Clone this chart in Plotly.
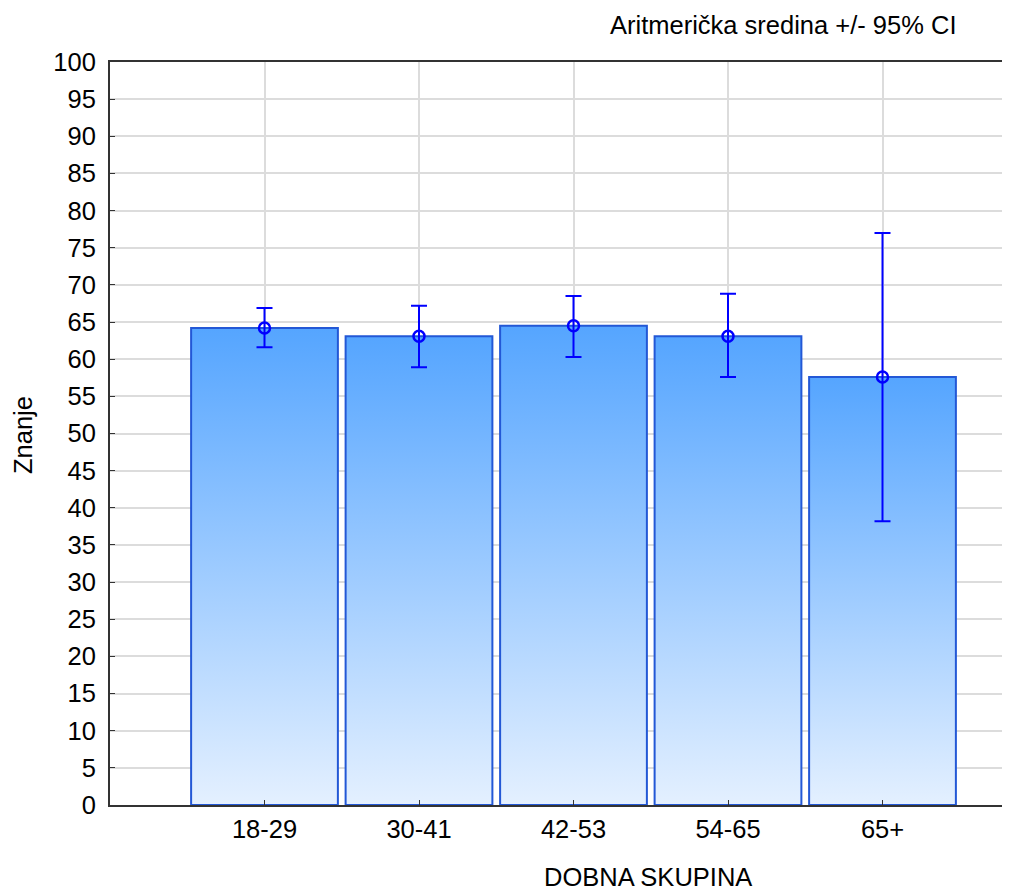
import plotly.graph_objects as go

categories = ["18-29", "30-41", "42-53", "54-65", "65+"]
means = [64.2, 63.1, 64.5, 63.1, 57.6]
ci_upper = [66.9, 67.2, 68.5, 68.8, 77.0]
ci_lower = [61.6, 58.9, 60.3, 57.6, 38.2]
y_ticks = list(range(0, 101, 5))

positions = list(range(1, len(categories) + 1))
bar_width = 0.95
font_family = "Liberation Sans, Arial, sans-serif"
fs = 25.5

fig = go.Figure()

for pos, m in zip(positions, means):
    x0, x1 = pos - bar_width / 2, pos + bar_width / 2
    fig.add_trace(go.Scatter(
        x=[x0, x0, x1, x1, x0],
        y=[0, m, m, 0, 0],
        mode="lines",
        fill="toself",
        fillgradient=dict(
            type="vertical",
            colorscale=[[0, "#e4f0ff"], [1, "#55a5ff"]],
        ),
        line=dict(color="#2358d6", width=2),
        showlegend=False,
        hoverinfo="skip",
    ))

fig.add_trace(go.Scatter(
    x=positions,
    y=means,
    mode="markers",
    marker=dict(symbol="circle-open", size=11, color="#0000ff",
                line=dict(width=2.5, color="#0000ff")),
    error_y=dict(
        type="data",
        symmetric=False,
        array=[u - m for u, m in zip(ci_upper, means)],
        arrayminus=[m - l for m, l in zip(means, ci_lower)],
        color="#0000ff",
        thickness=2,
        width=8,
    ),
    showlegend=False,
))

fig.update_layout(
    width=1002,
    height=884,
    margin=dict(l=102, r=0, t=54, b=87),
    paper_bgcolor="white",
    plot_bgcolor="white",
    font=dict(family=font_family, size=fs, color="#000000"),
    xaxis=dict(
        range=[0, 900 / 154.5],
        tickmode="array",
        tickvals=positions,
        ticktext=categories,
        showgrid=True,
        gridcolor="#dcdcdc",
        gridwidth=1.5,
        showline=True,
        linecolor="#333333",
        linewidth=2,
        mirror=True,
        ticks="inside",
        ticklen=5,
        tickcolor="#333333",
        zeroline=False,
        tickfont=dict(size=fs),
    ),
    yaxis=dict(
        range=[0, 100],
        tickmode="array",
        tickvals=y_ticks,
        showgrid=True,
        gridcolor="#dcdcdc",
        gridwidth=1.5,
        showline=True,
        linecolor="#333333",
        linewidth=2,
        ticks="inside",
        ticklen=5,
        tickcolor="#333333",
        zeroline=False,
        tickfont=dict(size=fs),
        ticklabelstandoff=7,
    ),
    annotations=[
        dict(text="Aritmerička sredina +/- 95% CI", xref="paper", yref="paper",
             x=(783 - 110) / 900, y=(805 - 25) / 743, xanchor="center", yanchor="middle",
             showarrow=False, font=dict(size=fs)),
        dict(text="DOBNA SKUPINA", xref="paper", yref="paper",
             x=(648 - 110) / 900, y=(805 - 877) / 743, xanchor="center", yanchor="middle",
             showarrow=False, font=dict(size=fs)),
        dict(text="Znanje", xref="paper", yref="paper",
             x=(23 - 110) / 900, y=(805 - 435) / 743, xanchor="center", yanchor="middle",
             textangle=-90, showarrow=False, font=dict(size=fs)),
    ],
)

fig.write_html("out.html")
